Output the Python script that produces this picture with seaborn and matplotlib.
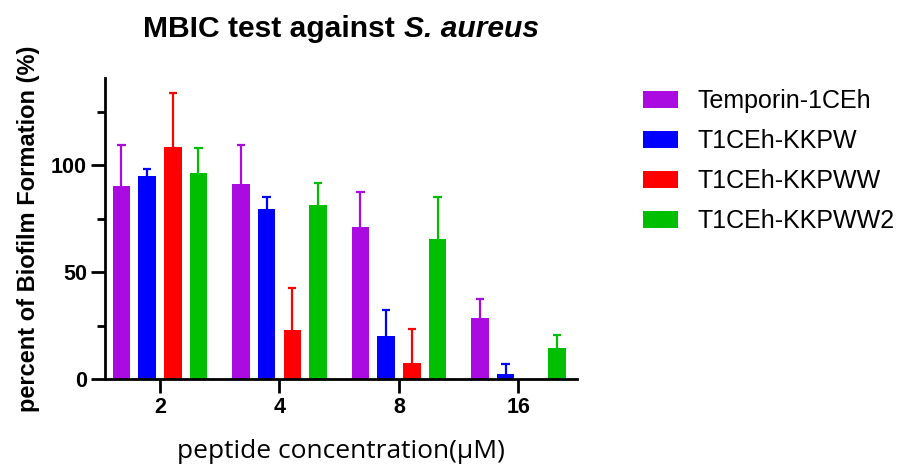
import matplotlib
matplotlib.use("Agg")
import matplotlib.pyplot as plt
import seaborn as sns
import pandas as pd
import numpy as np

concentrations = ["2", "4", "8", "16"]
series = ["Temporin-1CEh", "T1CEh-KKPW", "T1CEh-KKPWW", "T1CEh-KKPWW2"]
temporin_mean = [90.2, 91.1, 71.3, 28.5]
temporin_err = [19.3, 18.5, 16.4, 9.0]
kkpw_mean = [94.9, 79.4, 20.4, 2.3]
kkpw_err = [3.4, 5.6, 12.1, 4.9]
kkpww_mean = [108.7, 22.9, 7.6, 0.0]
kkpww_err = [24.9, 19.8, 15.9, 0.0]
kkpww2_mean = [96.5, 81.3, 65.7, 14.8]
kkpww2_err = [11.6, 10.3, 19.5, 5.9]
colors = ["#A90BE0", "#0000FF", "#FF0000", "#00BF00"]

means = [temporin_mean, kkpw_mean, kkpww_mean, kkpww2_mean]
errs = [temporin_err, kkpw_err, kkpww_err, kkpww2_err]

rows = []
for s, m in zip(series, means):
    for c, v in zip(concentrations, m):
        rows.append({"conc": c, "value": v, "series": s})
df = pd.DataFrame(rows)

sns.set_style("ticks")
plt.rcParams["font.family"] = ["Liberation Sans", "DejaVu Sans"]
for k in ["text.color", "axes.labelcolor", "xtick.color", "ytick.color", "axes.edgecolor"]:
    plt.rcParams[k] = "black"

fig = plt.figure(figsize=(9.05, 4.66), dpi=100)
ax = fig.add_axes([0.116, 0.186, 0.5216, 0.646])

sns.barplot(data=df, x="conc", y="value", hue="series", order=concentrations,
            hue_order=series, palette=colors, width=0.86, gap=0.32,
            errorbar=None, saturation=1, ax=ax, legend=False, edgecolor="none")

for cont, col, e in zip(ax.containers, colors, errs):
    for p, err in zip(cont.patches, e):
        if err <= 0:
            continue
        xc = p.get_x() + p.get_width() / 2
        h = p.get_height()
        cw = p.get_width() * 0.24
        ax.vlines(xc, h, h + err, colors=col, linewidth=1.6, zorder=1)
        ax.hlines(h + err, xc - cw, xc + cw, colors=col, linewidth=1.6, zorder=1)

ax.set_xlim(-0.46, 3.49)
ax.set_ylim(0, 140.6)
ax.set_yticks([0, 50, 100])
ax.set_yticks([25, 75, 125], minor=True)
for side in ["top", "right"]:
    ax.spines[side].set_visible(False)
for side in ["left", "bottom"]:
    ax.spines[side].set_linewidth(2)
    ax.spines[side].set_zorder(3)
ax.tick_params(axis="both", which="major", length=10, width=2, labelsize=15.5, pad=3)
ax.tick_params(axis="y", which="minor", length=6, width=2)
for lab in ax.get_xticklabels() + ax.get_yticklabels():
    lab.set_fontweight("bold")

ax.set_xlabel("peptide concentration(μM)", fontsize=19, family=["Open Sans", "DejaVu Sans"],
              fontweight="medium", labelpad=15)
ax.set_ylabel("percent of Biofilm Formation (%)", fontsize=17, fontweight="bold", labelpad=8)

# title: bold part + bold italic species name
t1 = fig.text(0, 0.9206, "MBIC test against ", fontsize=21.6, fontweight="bold",
              ha="left", va="baseline")
t2 = fig.text(0, 0.9206, "S. aureus", fontsize=21.6, fontweight="bold", style="italic",
              ha="left", va="baseline")
fig.canvas.draw()
r = fig.canvas.get_renderer()
w1 = t1.get_window_extent(r).width / fig.bbox.width
w2 = t2.get_window_extent(r).width / fig.bbox.width
cx = 0.116 + 0.5216 / 2
x0 = cx - (w1 + w2) / 2
t1.set_x(x0)
t2.set_x(x0 + w1)

handles = [plt.Rectangle((0, 0), 1, 1, facecolor=c, edgecolor="none") for c in colors]
fig.legend(handles, series, loc="upper left", bbox_to_anchor=(0.711, 0.808),
           frameon=False, fontsize=18, handlelength=1.4, handleheight=0.63,
           handletextpad=0.75, labelspacing=0.64, borderpad=0, borderaxespad=0)

fig.savefig("out.png", dpi=100)
